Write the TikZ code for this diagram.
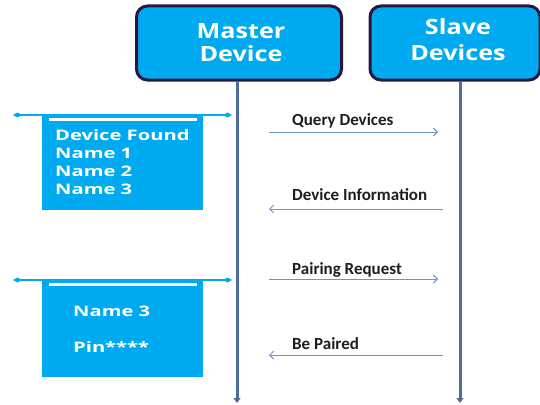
\documentclass[tikz,border=0pt]{standalone}
\usepackage{fontspec}
\setmainfont{Open Sans}
\newfontfamily\headfont[FakeStretch=1.2]{Open Sans}
\newfontfamily\notefont[FakeStretch=1.39]{Open Sans}
\newfontfamily\labelfont{Carlito}
\usetikzlibrary{arrows.meta}
\definecolor{boxblue}{RGB}{0,170,240}
\definecolor{boxedge}{RGB}{40,24,64}
\definecolor{lifeline}{RGB}{78,108,156}
\definecolor{msgblue}{RGB}{110,145,205}
\definecolor{labeltext}{RGB}{30,30,30}
\tikzset{
  header/.style={draw=boxedge, line width=3pt, fill=boxblue, rounded corners=11pt, inner sep=0pt},
  headtext/.style={text=white, font=\headfont\bfseries\fontsize{21}{23}\selectfont, anchor=base, inner sep=0pt},
  life/.style={draw=lifeline, line width=3pt, -{Triangle[length=5pt,width=7pt]}},
  notebox/.style={fill=boxblue, inner sep=0pt, anchor=north west},
  notetext/.style={text=white, font=\notefont\bfseries\fontsize{14.5}{18}\selectfont, anchor=base west, inner sep=0pt},
  bar/.style={draw=boxblue, line width=1.5pt, {Diamond[length=9pt,width=5pt]}-{Diamond[length=9pt,width=5pt]}},
  whitebar/.style={draw=white, line width=2.5pt},
  msg/.style={draw=msgblue, line width=0.9pt, -{Straight Barb[length=4pt,width=8pt]}},
  msglabel/.style={text=labeltext, font=\labelfont\bfseries\fontsize{17}{19}\selectfont, anchor=base west, inner sep=0pt}
}
\begin{document}
\begin{tikzpicture}[x=1pt,y=-1pt]
\useasboundingbox (0,0) rectangle (540,404);

% participants
\node[header, minimum width=205pt, minimum height=74pt] (master) at (239,43) {};
\node[headtext] (master1) at (241,38) {Master};
\node[headtext] (master2) at (241,61) {Device};
\node[header, minimum width=170pt, minimum height=74pt] (slave) at (455,43) {};
\node[headtext] (slave1) at (458,35) {Slave};
\node[headtext] (slave2) at (458,60) {Devices};

% lifelines
\coordinate (mtop) at (237,81);
\coordinate (mbot) at (237,403);
\coordinate (stop) at (460,81);
\coordinate (sbot) at (460,403);
\draw[life] (mtop) -- (mbot);
\draw[life] (stop) -- (sbot);

% first note: discovered devices
\node[notebox, minimum width=161pt, minimum height=95pt] (found) at (42,115) {};
\coordinate (b1l) at (13,115);
\coordinate (b1r) at (232,115);
\draw[bar] (b1l) -- (b1r);
\coordinate (w1l) at (49,119.5);
\coordinate (w1r) at (197,119.5);
\draw[whitebar] (w1l) -- (w1r);
\node[notetext] (found1) at (55,140) {Device Found};
\node[notetext] (found2) at (55,158.5) {Name 1};
\node[notetext] (found3) at (55,176.5) {Name 2};
\node[notetext] (found4) at (55,194.5) {Name 3};

% second note: pairing
\node[notebox, minimum width=161pt, minimum height=97pt] (pin) at (42,280) {};
\coordinate (b2l) at (13,280);
\coordinate (b2r) at (232,280);
\draw[bar] (b2l) -- (b2r);
\coordinate (w2l) at (49,284.5);
\coordinate (w2r) at (197,284.5);
\draw[whitebar] (w2l) -- (w2r);
\node[notetext] (name3) at (73,316) {Name 3};
\node[notetext] (pinno) at (73,352) {Pin****};

% messages
\coordinate (q1) at (269,132);
\coordinate (q2) at (438,132);
\draw[msg] (q1) -- (q2);
\node[msglabel] (ql) at (292,125) {Query Devices};

\coordinate (i1) at (443,209);
\coordinate (i2) at (269,209);
\draw[msg] (i1) -- (i2);
\node[msglabel] (il) at (292,200) {Device Information};

\coordinate (p1) at (269,279);
\coordinate (p2) at (438,279);
\draw[msg] (p1) -- (p2);
\node[msglabel] (pl) at (292,274) {Pairing Request};

\coordinate (r1) at (443,355);
\coordinate (r2) at (269,355);
\draw[msg] (r1) -- (r2);
\node[msglabel] (rl) at (292,349) {Be Paired};
\end{tikzpicture}
\end{document}
